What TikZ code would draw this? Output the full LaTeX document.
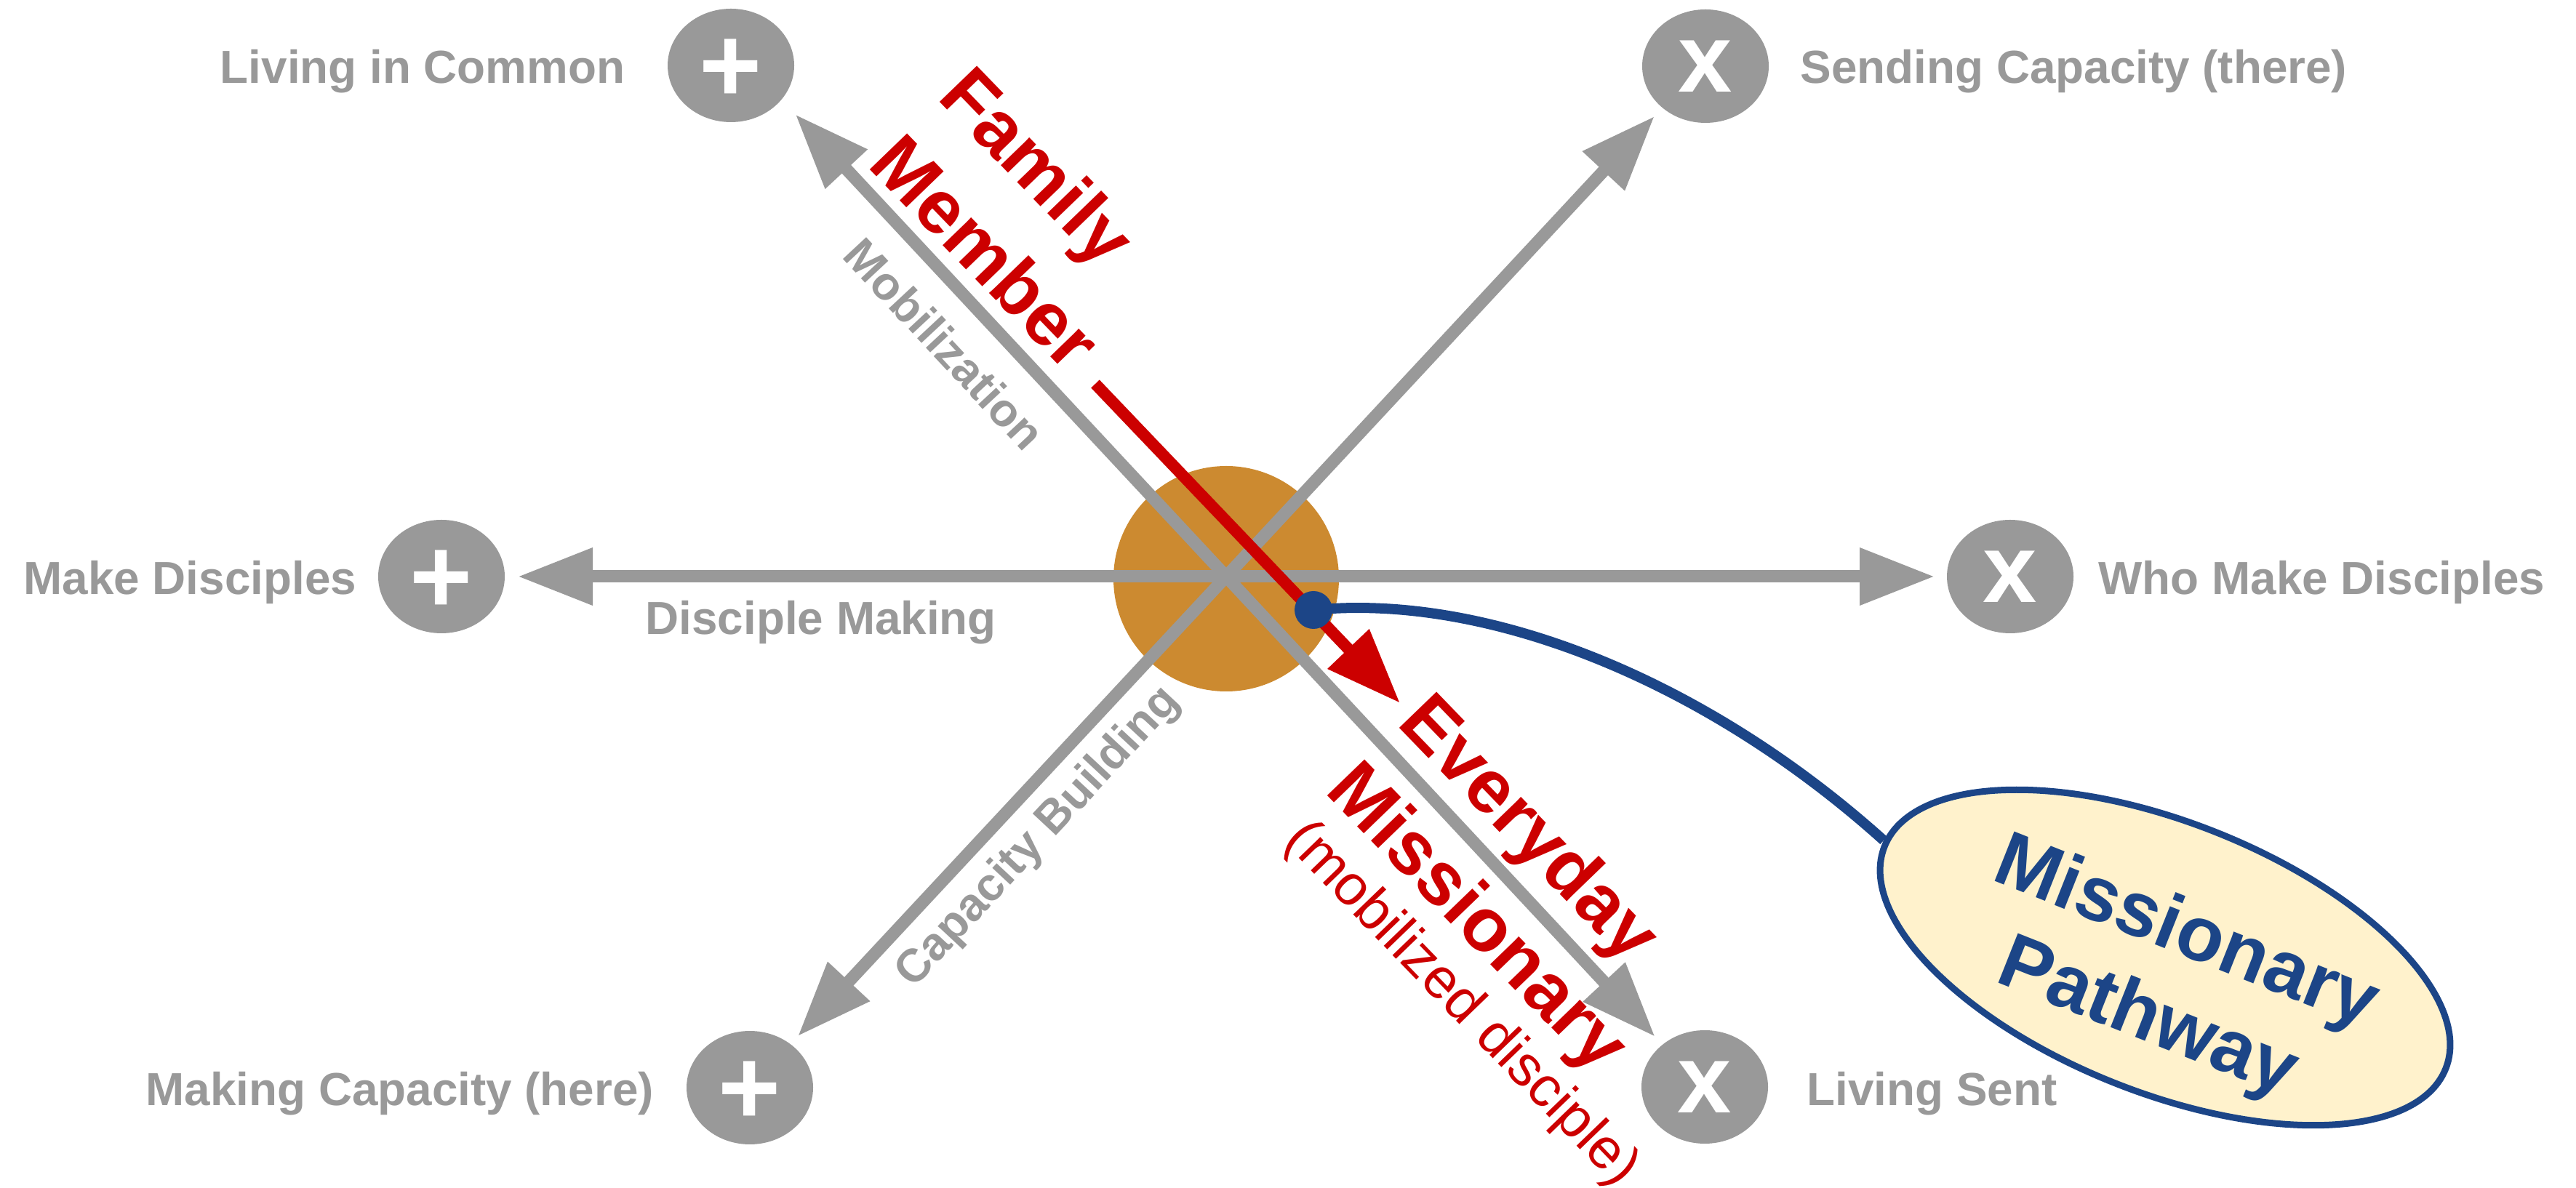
\documentclass[tikz,border=0pt]{standalone}
\usepackage{fontspec}
\setmainfont{Liberation Sans}
\usetikzlibrary{shapes.geometric,arrows.meta}
\definecolor{midgray}{HTML}{999999}
\definecolor{darkred}{HTML}{CC0000}
\definecolor{deepblue}{HTML}{1C4587}
\definecolor{ochre}{HTML}{CC8A30}
\definecolor{paleyellow}{HTML}{FFF2CC}
\tikzset{
    endpoint/.style={ellipse, fill=midgray, minimum width=1.74cm, minimum height=1.56cm, inner sep=0pt, outer sep=0pt},
    plussign/.style={text=white, inner sep=0pt, font=\fontsize{42}{42}\selectfont\bfseries},
    timessign/.style={endpoint, text=white, font=\fontsize{38}{38}\selectfont\bfseries},
    graylabel/.style={text=midgray, inner sep=0pt, font=\fontsize{18.15}{20}\selectfont\bfseries},
    redlabel/.style={text=darkred, inner sep=0pt, font=\fontsize{29.5}{32}\selectfont\bfseries},
    bluelabel/.style={text=deepblue, inner sep=0pt, anchor=base, rotate=-21.6, font=\fontsize{30.3}{34}\selectfont\bfseries},
    grayarrow/.style={draw=midgray, line width=0.17cm, -{Triangle[length=1.03cm,width=0.75cm]}},
}
\begin{document}
\begin{tikzpicture}
    \useasboundingbox (0,0) rectangle (35.42,16.34);
    \node [circle, fill=ochre, minimum size=3.1cm, inner sep=0pt] (hub) at (16.86,8.38) {};
    \coordinate (cross) at (16.86,8.41);
    \foreach \name/\x/\y in {nw/10.05/15.44, w/6.07/8.41, sw/10.31/1.38}
    {
        \node [endpoint] (\name) at (\x,\y) {};
        \node [plussign, yshift=-0.07cm] (\name sign) at (\name) {+};
    }
    \foreach \name/\x/\y in {ne/23.45/15.43, e/27.64/8.41, se/23.44/1.39}
    {
        \node [timessign] (\name) at (\x,\y) {x};
    }
    \foreach \name/\anch/\gap in {nw/-34/0.28, ne/224/0.16, w/0/0.18, e/180/0.17, sw/47/0.15, se/135/0.15}
    {
        \draw [grayarrow, shorten >=\gap cm] (cross) -- (\name.\anch);
    }
    \node [graylabel, anchor=base east] (commonlabel) at (8.60,15.19) {Living in Common};
    \node [graylabel, anchor=base west] (sendinglabel) at (24.75,15.19) {Sending Capacity (there)};
    \node [graylabel, anchor=base west] (makelabel) at (0.32,8.16) {Make Disciples};
    \node [graylabel, anchor=base west] (wholabel) at (28.85,8.16) {Who Make Disciples};
    \node [graylabel, anchor=base west] (herelabel) at (2.00,1.13) {Making Capacity (here)};
    \node [graylabel, anchor=base west] (sentlabel) at (24.84,1.13) {Living Sent};
    \node [graylabel, anchor=base west] (disciplelabel) at (8.87,7.61) {Disciple Making};
    \node [graylabel, rotate=-47] (mobillabel) at (12.99,11.61) {Mobilization};
    \node [graylabel, rotate=47] (capacitylabel) at (14.28,4.82) {Capacity Building};
    \node [redlabel, rotate=-46] (family) at (14.21,13.99) {Family};
    \node [redlabel, rotate=-46] (member) at (13.56,12.88) {Member};
    \node [redlabel, rotate=-46] (everyday) at (20.99,4.90) {Everyday};
    \node [redlabel, rotate=-46] (missionary) at (20.28,3.68) {Missionary};
    \node [text=darkred, inner sep=0pt, rotate=-46, font=\fontsize{22.2}{24}\selectfont] (mobilized) at (20.09,2.52) {(mobilized disciple)};
    \coordinate (redstart) at (15.06,11.06);
    \coordinate (redtip) at (19.25,6.67);
    \draw [draw=darkred, line width=0.16cm, -{Triangle[length=1.03cm,width=0.75cm]}] (redstart) -- (redtip);
    \node [ellipse, draw=deepblue, fill=paleyellow, line width=0.09cm, rotate=-21.6, minimum width=8.30cm, minimum height=3.72cm, inner sep=0pt] (pathway) at (29.77,3.17) {};
    \node [bluelabel] (pathwayone) at (29.95,3.22) {Missionary};
    \node [bluelabel] (pathwaytwo) at (29.42,2.05) {Pathway};
    \node [circle, fill=deepblue, minimum size=0.52cm, inner sep=0pt] (dot) at (18.06,7.95) {};
    \draw [draw=deepblue, line width=0.14cm] (dot.center) .. controls (20.50,8.19) and (23.50,6.94) .. (pathway.179);
\end{tikzpicture}
\end{document}
